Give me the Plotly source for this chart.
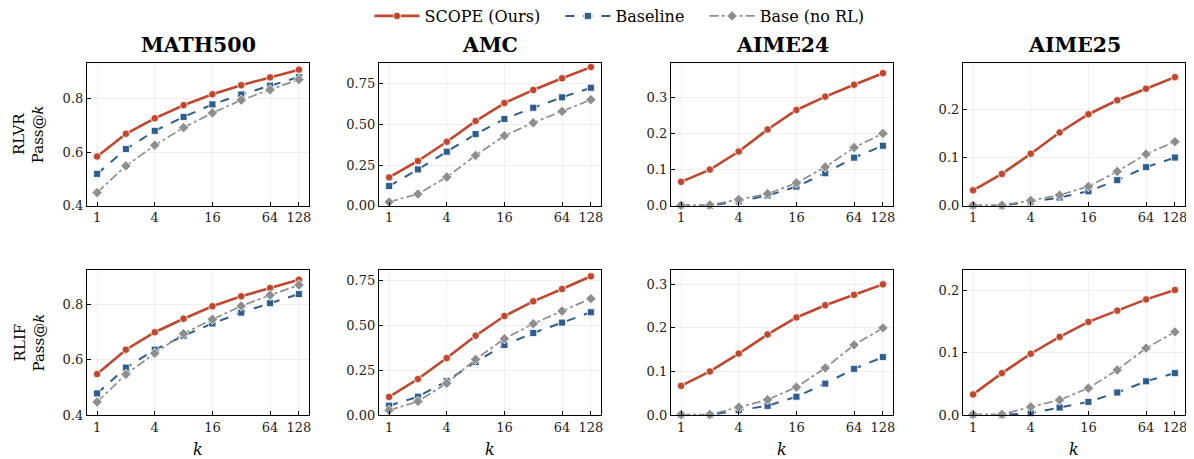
import plotly.graph_objects as go
import math

k_values = [1, 2, 4, 8, 16, 32, 64, 128]
x_tick_vals = [1, 4, 16, 64, 128]
x_tick_text = ["1", "4", "16", "64", "128"]
datasets = ["MATH500", "AMC", "AIME24", "AIME25"]
settings = ["RLVR", "RLIF"]
series_names = ["SCOPE (Ours)", "Baseline", "Base (no RL)"]

# RLVR row
rlvr_math500_scope = [0.584, 0.669, 0.727, 0.776, 0.817, 0.851, 0.880, 0.909]
rlvr_math500_baseline = [0.519, 0.612, 0.680, 0.732, 0.779, 0.816, 0.849, 0.881]
rlvr_math500_base = [0.449, 0.549, 0.626, 0.692, 0.747, 0.795, 0.834, 0.872]

rlvr_amc_scope = [0.174, 0.275, 0.393, 0.520, 0.631, 0.711, 0.783, 0.852]
rlvr_amc_baseline = [0.121, 0.223, 0.332, 0.440, 0.533, 0.602, 0.666, 0.725]
rlvr_amc_base = [0.023, 0.072, 0.176, 0.309, 0.430, 0.510, 0.580, 0.652]

rlvr_aime24_scope = [0.066, 0.100, 0.150, 0.211, 0.265, 0.302, 0.335, 0.367]
rlvr_aime24_baseline = [0.001, 0.000, 0.012, 0.028, 0.053, 0.090, 0.133, 0.166]
rlvr_aime24_base = [0.001, 0.002, 0.017, 0.033, 0.063, 0.107, 0.161, 0.200]

rlvr_aime25_scope = [0.032, 0.066, 0.108, 0.152, 0.190, 0.219, 0.243, 0.267]
rlvr_aime25_baseline = [0.000, 0.000, 0.008, 0.017, 0.030, 0.053, 0.080, 0.100]
rlvr_aime25_base = [0.001, 0.001, 0.011, 0.022, 0.040, 0.071, 0.107, 0.133]

# RLIF row
rlif_math500_scope = [0.548, 0.636, 0.699, 0.748, 0.793, 0.829, 0.859, 0.889]
rlif_math500_baseline = [0.478, 0.571, 0.636, 0.686, 0.731, 0.770, 0.804, 0.837]
rlif_math500_base = [0.447, 0.547, 0.623, 0.694, 0.746, 0.794, 0.833, 0.870]

rlif_amc_scope = [0.101, 0.201, 0.318, 0.443, 0.553, 0.635, 0.704, 0.775]
rlif_amc_baseline = [0.052, 0.102, 0.190, 0.296, 0.391, 0.458, 0.516, 0.574]
rlif_amc_base = [0.026, 0.076, 0.177, 0.311, 0.426, 0.510, 0.581, 0.650]

rlif_aime24_scope = [0.067, 0.100, 0.141, 0.185, 0.224, 0.252, 0.276, 0.300]
rlif_aime24_baseline = [0.000, 0.000, 0.011, 0.021, 0.042, 0.072, 0.106, 0.133]
rlif_aime24_base = [0.001, 0.001, 0.018, 0.035, 0.064, 0.108, 0.161, 0.200]

rlif_aime25_scope = [0.033, 0.067, 0.098, 0.125, 0.149, 0.167, 0.185, 0.200]
rlif_aime25_baseline = [0.000, 0.000, 0.003, 0.012, 0.021, 0.036, 0.054, 0.067]
rlif_aime25_base = [0.001, 0.001, 0.013, 0.024, 0.043, 0.072, 0.107, 0.133]

panel_data = [
    [(rlvr_math500_scope, rlvr_math500_baseline, rlvr_math500_base),
     (rlvr_amc_scope, rlvr_amc_baseline, rlvr_amc_base),
     (rlvr_aime24_scope, rlvr_aime24_baseline, rlvr_aime24_base),
     (rlvr_aime25_scope, rlvr_aime25_baseline, rlvr_aime25_base)],
    [(rlif_math500_scope, rlif_math500_baseline, rlif_math500_base),
     (rlif_amc_scope, rlif_amc_baseline, rlif_amc_base),
     (rlif_aime24_scope, rlif_aime24_baseline, rlif_aime24_base),
     (rlif_aime25_scope, rlif_aime25_baseline, rlif_aime25_base)],
]

y_ranges = [
    [[0.4, 0.935], [0, 0.879], [0, 0.396], [0, 0.297]],
    [[0.4, 0.924], [0, 0.810], [0, 0.333], [0, 0.232]],
]
y_ticks = [
    [[0.4, 0.6, 0.8], [0, 0.25, 0.5, 0.75], [0, 0.1, 0.2, 0.3], [0, 0.1, 0.2]],
    [[0.4, 0.6, 0.8], [0, 0.25, 0.5, 0.75], [0, 0.1, 0.2, 0.3], [0, 0.1, 0.2]],
]
y_formats = [".1f", ".2f", ".1f", ".1f"]

# page body margin offset (8px) is removed from target screen positions
OFF = 8
W, H = 1194 - OFF, 459 - OFF
col_px = [(87, 309), (379, 601), (671, 893), (963, 1185)]
row_px = [(62.7, 205.7), (270, 415)]

def fx(px):
    return (px - OFF) / W

def fy(py):
    return 1 - (py - OFF) / H

RED = "#C0472D"
BLUE = "#2E5E8E"
GRAY = "#8E8E8E"
styles = [
    dict(color=RED, dash="solid", width=2.6, symbol="circle", msize=7.5),
    dict(color=BLUE, dash="dash", width=2.0, symbol="square", msize=7),
    dict(color=GRAY, dash="dashdot", width=1.7, symbol="diamond", msize=8),
]
NB = "\u00a0"
legend_labels = [series_names[0] + NB * 3, series_names[1] + NB * 3, series_names[2]]

FONT = "DejaVu Serif"
fig = go.Figure()
xr = [math.log10(2 ** -0.35), math.log10(2 ** 7.35)]

layout_axes = {}
idx = 0
for r in range(2):
    for c in range(4):
        idx += 1
        xa = "xaxis" if idx == 1 else f"xaxis{idx}"
        ya = "yaxis" if idx == 1 else f"yaxis{idx}"
        xref = "x" if idx == 1 else f"x{idx}"
        yref = "y" if idx == 1 else f"y{idx}"
        x0, x1 = col_px[c]
        y0, y1 = row_px[r]
        common = dict(
            showline=True, linecolor="black", linewidth=1.2, mirror=True,
            ticks="inside", ticklen=4, tickwidth=1, tickcolor="black",
            showgrid=True, gridcolor="rgba(0,0,0,0.06)", gridwidth=1,
            zeroline=False, automargin=False,
            tickfont=dict(family=FONT, size=13, color="#222"),
        )
        layout_axes[xa] = dict(
            common, type="log", domain=[fx(x0), fx(x1)], range=xr,
            tickvals=x_tick_vals, ticktext=x_tick_text, anchor=yref,
        )
        layout_axes[ya] = dict(
            common, domain=[fy(y1), fy(y0)], range=y_ranges[r][c],
            tickvals=y_ticks[r][c], tickformat=y_formats[c], anchor=xref,
        )
        for s in range(3):
            st = styles[s]
            fig.add_trace(go.Scatter(
                x=k_values, y=panel_data[r][c][s], xaxis=xref, yaxis=yref,
                mode="lines+markers", name=legend_labels[s],
                showlegend=(idx == 1), legendrank=s + 1,
                line=dict(color=st["color"], dash=st["dash"], width=st["width"]),
                marker=dict(symbol=st["symbol"], size=st["msize"], color=st["color"],
                            line=dict(color="white", width=0.8)),
                cliponaxis=False,
            ))

annotations = []
for c in range(4):
    x0, x1 = col_px[c]
    annotations.append(dict(
        text=f"<b>{datasets[c]}</b>", x=fx((x0 + x1) / 2), y=fy(45),
        xref="paper", yref="paper", showarrow=False,
        font=dict(family=FONT, size=20.5, color="black"), xanchor="center", yanchor="middle",
    ))
    annotations.append(dict(
        text="<i>k</i>", x=fx((x0 + x1) / 2), y=fy(449),
        xref="paper", yref="paper", showarrow=False,
        font=dict(family=FONT, size=16, color="black"), xanchor="center", yanchor="middle",
    ))
for r in range(2):
    y0, y1 = row_px[r]
    annotations.append(dict(
        text=f"{settings[r]}<br>Pass@<i>k</i>", x=fx(29), y=fy((y0 + y1) / 2),
        xref="paper", yref="paper", showarrow=False, textangle=-90,
        font=dict(family=FONT, size=15, color="black"), xanchor="center", yanchor="middle",
    ))

fig.update_layout(
    width=W, height=H,
    margin=dict(l=0, r=0, t=0, b=0, autoexpand=False),
    paper_bgcolor="white", plot_bgcolor="white",
    font=dict(family=FONT, color="black"),
    annotations=annotations,
    legend=dict(
        orientation="h", x=fx(619.5), xanchor="center", y=fy(16), yanchor="middle",
        font=dict(family=FONT, size=16, color="black"),
        itemwidth=45, tracegroupgap=0, traceorder="normal",
        bgcolor="rgba(0,0,0,0)",
    ),
    **layout_axes,
)

fig.write_html("out.html")
